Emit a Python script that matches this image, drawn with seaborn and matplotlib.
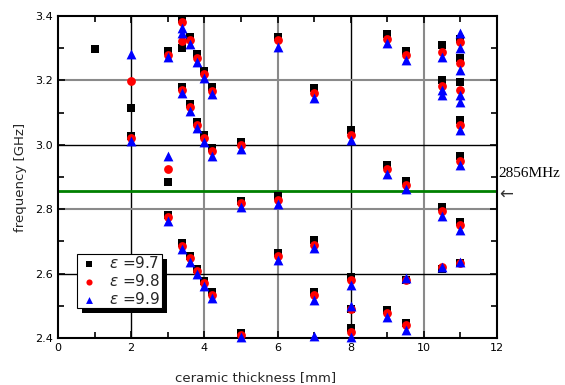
import matplotlib
matplotlib.use("Agg")
import matplotlib.pyplot as plt
import seaborn as sns
import pandas as pd
from matplotlib.patches import Rectangle

# ---- data ----
x_97 = [1, 2, 2, 3, 3, 3, 3.4, 3.4, 3.4, 3.4, 3.6, 3.6, 3.6, 3.8, 3.8, 3.8,
        4.0, 4.0, 4.0, 4.2, 4.2, 4.2, 5, 5, 5, 6, 6, 6, 7, 7, 7,
        8, 8, 8, 8, 9, 9, 9, 9.5, 9.5, 9.5, 9.5, 10.5, 10.5, 10.5, 10.5,
        11, 11, 11, 11, 11, 11, 11]
f_97 = [3.297, 3.115, 3.028, 3.29, 2.884, 2.782, 3.39, 3.30, 3.178, 2.694,
        3.336, 3.126, 2.655, 3.281, 3.07, 2.614,
        3.229, 3.03, 2.577, 3.178, 2.99, 2.544, 3.01, 2.826, 2.416,
        3.336, 2.842, 2.665, 3.175, 2.704, 2.544,
        3.046, 2.59, 2.49, 2.43, 3.343, 2.937, 2.487,
        3.29, 2.887, 2.58, 2.447, 3.31, 3.20, 2.807, 2.615,
        3.33, 3.269, 3.196, 3.077, 2.965, 2.76, 2.632]

x_98 = [2, 2, 3, 3, 3, 3.4, 3.4, 3.4, 3.4, 3.6, 3.6, 3.6, 3.8, 3.8, 3.8,
        4.0, 4.0, 4.0, 4.2, 4.2, 4.2, 5, 5, 5, 6, 6, 6, 7, 7, 7,
        8, 8, 8, 8, 9, 9, 9, 9.5, 9.5, 9.5, 9.5, 10.5, 10.5, 10.5, 10.5,
        11, 11, 11, 11, 11, 11, 11]
f_98 = [3.198, 3.02, 3.28, 2.924, 2.775, 3.38, 3.323, 3.17, 2.685,
        3.325, 3.117, 2.647, 3.27, 3.063, 2.607,
        3.22, 3.02, 2.57, 3.168, 2.98, 2.535, 3.0, 2.82, 2.41,
        3.325, 2.829, 2.655, 3.16, 2.69, 2.532,
        3.03, 2.58, 2.49, 2.42, 3.33, 2.925, 2.478,
        3.278, 2.875, 2.58, 2.44, 3.289, 3.183, 2.795, 2.62,
        3.32, 3.255, 3.17, 3.062, 2.95, 2.75, 2.632]

x_99 = [2, 2, 3, 3, 3, 3.4, 3.4, 3.4, 3.4, 3.6, 3.6, 3.6, 3.8, 3.8, 3.8,
        4.0, 4.0, 4.0, 4.2, 4.2, 4.2, 5, 5, 5, 6, 6, 6, 7, 7, 7, 7,
        8, 8, 8, 8, 9, 9, 9, 9.5, 9.5, 9.5, 9.5,
        10.5, 10.5, 10.5, 10.5, 10.5,
        11, 11, 11, 11, 11, 11, 11, 11, 11]
f_99 = [3.281, 3.012, 3.272, 2.966, 2.764, 3.362, 3.347, 3.16, 2.675,
        3.312, 3.105, 2.637, 3.258, 3.052, 2.599,
        3.207, 3.008, 2.563, 3.158, 2.965, 2.525, 2.988, 2.806, 2.402,
        3.305, 2.816, 2.642, 3.144, 2.678, 2.518, 2.405,
        3.015, 2.565, 2.50, 2.403, 3.315, 2.91, 2.465,
        3.263, 2.862, 2.585, 2.425,
        3.274, 3.17, 3.155, 2.78, 2.622,
        3.347, 3.30, 3.232, 3.155, 3.134, 3.046, 2.937, 2.735, 2.637]

series_labels = ["9.7", "9.8", "9.9"]
ref_freq = 2.856
ref_label = "2856MHz"
x_ticks = [0, 2, 4, 6, 8, 10, 12]
y_ticks = [2.4, 2.6, 2.8, 3.0, 3.2, 3.4]

df = pd.concat([
    pd.DataFrame({"t": x_97, "f": f_97, "eps": series_labels[0]}),
    pd.DataFrame({"t": x_98, "f": f_98, "eps": series_labels[1]}),
    pd.DataFrame({"t": x_99, "f": f_99, "eps": series_labels[2]}),
], ignore_index=True)

sns.set_theme(style="white")
plt.rcParams["font.family"] = ["DejaVu Sans"]

fig = plt.figure(figsize=(5.65, 3.85), dpi=100)
ax = fig.add_axes([58 / 565, 1 - 338 / 385, 439 / 565, 322 / 385])

# grid lines (mixed black / grey as in reference)
black_v, black_h = [2, 8], [2.6, 3.0]
for xv in x_ticks[1:-1]:
    if xv in black_v:
        ax.axvline(xv, color="black", lw=1.0, zorder=0.5)
    else:
        ax.axvline(xv, color="#8a8a8a", lw=1.5, zorder=0.5)
for yv in y_ticks[1:-1]:
    if yv in black_h:
        ax.axhline(yv, color="black", lw=1.0, zorder=0.5)
    else:
        ax.axhline(yv, color="#8a8a8a", lw=1.5, zorder=0.5)

ax.axhline(ref_freq, color="#008000", lw=2.0, zorder=1)

styles = {"9.7": ("s", "black", 34), "9.8": ("o", "red", 40), "9.9": ("^", "blue", 50)}
for i, lab in enumerate(series_labels):
    m, c, s = styles[lab]
    sub = df[df["eps"] == lab]
    sns.scatterplot(data=sub, x="t", y="f", marker=m, color=c, s=s,
                    linewidth=0, ax=ax, zorder=2 + i,
                    label=r"$\varepsilon$ =" + lab, clip_on=False)

ax.set_xlim(0, 12)
ax.set_ylim(2.4, 3.4)
ax.set_xticks(x_ticks)
ax.set_yticks(y_ticks)
ax.set_xticks([1, 3, 5, 7, 9, 11], minor=True)
ax.set_yticks([2.5, 2.7, 2.9, 3.1, 3.3], minor=True)
ax.set_xticklabels([str(v) for v in x_ticks])
ax.set_yticklabels([f"{v:.1f}" for v in y_ticks])
ax.tick_params(which="both", direction="in", top=True, right=True,
               bottom=True, left=True, colors="black", labelsize=8, width=1.2)
ax.tick_params(which="major", length=5)
ax.tick_params(which="minor", length=4)
for sp in ax.spines.values():
    sp.set_color("black")
    sp.set_linewidth(1.5)

ax.set_xlabel("ceramic thickness [mm]", fontsize=9.5)
ax.xaxis.set_label_coords(0.451, -0.102)
ax.set_ylabel("frequency [GHz]", fontsize=9.5, labelpad=6)

leg = ax.legend(loc="upper left", bbox_to_anchor=(0.043, 0.262),
                fontsize=11, markerscale=0.7, handletextpad=0.6,
                borderpad=0.1, labelspacing=0.12, handlelength=1.4,
                borderaxespad=0.0,
                fancybox=False, frameon=True, framealpha=1)
leg.get_frame().set_edgecolor("black")
leg.get_frame().set_linewidth(0.8)
leg.set_zorder(10)

fig.canvas.draw()
bb = leg.get_window_extent().transformed(fig.transFigure.inverted())
shadow = Rectangle((bb.x0 + 5 / 565, bb.y0 - 5 / 385), bb.width, bb.height,
                   transform=fig.transFigure, facecolor="black",
                   edgecolor="none", zorder=9)
ax.add_artist(shadow)
shadow.set_clip_on(False)

ax.text(1.002, ref_freq + 0.055, ref_label, transform=ax.get_yaxis_transform(),
        fontsize=11, family="Liberation Serif", ha="left", va="center",
        color="black")
ax.text(1.004, ref_freq - 0.01, "\u2190", transform=ax.get_yaxis_transform(),
        fontsize=12, family="DejaVu Sans", ha="left", va="center",
        color="#333333")

fig.savefig("out.png", dpi=100)
